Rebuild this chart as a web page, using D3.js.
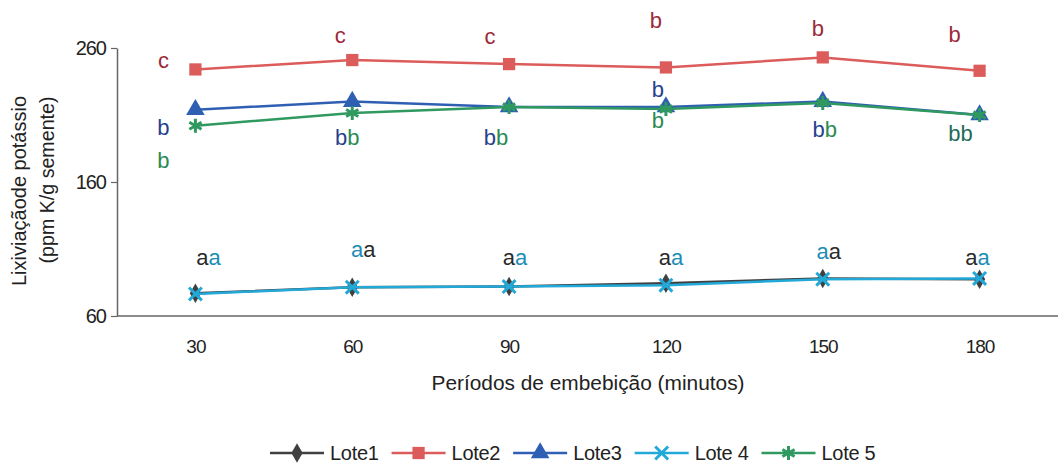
<!DOCTYPE html>
<html>
<head>
<meta charset="utf-8">
<script src="https://cdn.jsdelivr.net/npm/d3@7"></script>
<style>
  body { margin: 0; background: #fff; }
  svg text { font-family: "Liberation Sans", Arial, sans-serif; }
</style>
</head>
<body>
<div id="grafico"></div>
<script>
// Dados do gráfico
var periodos = ["30", "60", "90", "120", "150", "180"];
var lotes = ["Lote1", "Lote2", "Lote3", "Lote 4", "Lote 5"];
var lote1 = [77, 81.5, 82, 84.5, 88, 87.5];
var lote2 = [244, 251, 248, 245.5, 253, 243];
var lote3 = [214, 220, 216, 216, 220, 210];
var lote4 = [76.5, 81.5, 82, 83, 87.5, 88];
var lote5 = [202, 211.5, 216, 214.5, 219, 210];
var yTicks = [60, 160, 260];

// letras de significância (por período)
var letras = [
  // periodo, serie de referência, texto/cores
  ["30", 1, [["c", 1]]],
  ["30", 2, [["b", 2]]],
  ["30", 4, [["b", 4]]],
  ["30", 0, [["a", 0], ["a", 3]]],
  ["60", 1, [["c", 1]]],
  ["60", 2, [["b", 2], ["b", 4]]],
  ["60", 0, [["a", 3], ["a", 0]]],
  ["90", 1, [["c", 1]]],
  ["90", 2, [["b", 2], ["b", 4]]],
  ["90", 0, [["a", 0], ["a", 3]]],
  ["120", 1, [["b", 1]]],
  ["120", 2, [["b", 2]]],
  ["120", 4, [["b", 4]]],
  ["120", 0, [["a", 0], ["a", 3]]],
  ["150", 1, [["b", 1]]],
  ["150", 2, [["b", 2], ["b", 4]]],
  ["150", 0, [["a", 3], ["a", 0]]],
  ["180", 1, [["b", 1]]],
  ["180", 2, [["b", 5], ["b", 5]]],
  ["180", 0, [["a", 0], ["a", 3]]]
];
// deslocamento das letras em pixels (layout)
var desloc = [
  [-32, -1], [-32, 25], [-32, 42], [13, -28],
  [-12, -17], [-5, 43], [11, -30],
  [-19, -20], [-13, 38], [6, -22],
  [-10, -39], [-8, -10], [-8, 19], [5, -18],
  [-5, -21], [2, 35], [6, -19],
  [-25, -29], [-19, 26], [-2, -14]
];

var series = [lote1, lote2, lote3, lote4, lote5];
var cores = ["#404040", "#dc5b5b", "#2f5fb3", "#22a9d8", "#2f9960"];
var coresLetras = ["#2a2a2a", "#9b2a3a", "#24418f", "#1b8db6", "#2a8a52", "#1f6b5b"];
var simbolos = [d3.symbolDiamond, d3.symbolSquare, d3.symbolTriangle, d3.symbolX, d3.symbolAsterisk];
var tamanhos = [110, 150, 150, 110, 140];

var largura = 1061, altura = 466;
var margem = {top: 48, left: 117};

var svg = d3.select("#grafico")
  .append("svg")
  .attr("width", largura)
  .attr("height", altura);

var x = d3.scalePoint()
  .domain(periodos)
  .range([117, 1058])
  .padding(0.5);

var y = d3.scaleLinear()
  .domain([60, 260])
  .range([316, 48]);

// eixo Y
var eixoY = svg.append("g")
  .attr("transform", "translate(" + margem.left + ",0)")
  .call(d3.axisLeft(y).tickValues(yTicks).tickSize(6).tickSizeOuter(0).tickPadding(5));
eixoY.select(".domain").attr("stroke", "#666").attr("stroke-width", 1.5);
eixoY.selectAll(".tick line").attr("stroke", "#666").attr("stroke-width", 1.2);
eixoY.selectAll(".tick text")
  .attr("font-size", "20px")
  .attr("fill", "#222")
  .attr("letter-spacing", "-1px")
  .style("font-family", "Liberation Sans, Arial");

// eixo X
var eixoX = svg.append("g")
  .attr("transform", "translate(0,316)")
  .call(d3.axisBottom(x).tickSize(0).tickPadding(24));
eixoX.select(".domain").attr("stroke", "#666").attr("stroke-width", 1.5)
  .attr("d", "M" + margem.left + ",0H1058");
eixoX.selectAll(".tick text")
  .attr("font-size", "19px")
  .attr("fill", "#222")
  .attr("letter-spacing", "-1px")
  .style("font-family", "Liberation Sans, Arial");

// títulos dos eixos
svg.append("text")
  .attr("x", 588)
  .attr("y", 390)
  .attr("text-anchor", "middle")
  .attr("font-size", "20px")
  .attr("fill", "#222")
  .attr("textLength", 313)
  .attr("lengthAdjust", "spacingAndGlyphs")
  .text("Períodos de embebição (minutos)");

svg.append("text")
  .attr("transform", "translate(26,191) rotate(-90)")
  .attr("text-anchor", "middle")
  .attr("font-size", "20px")
  .attr("fill", "#222")
  .attr("textLength", 190)
  .attr("lengthAdjust", "spacingAndGlyphs")
  .text("Lixiviaçãode potássio");

svg.append("text")
  .attr("transform", "translate(54,180) rotate(-90)")
  .attr("text-anchor", "middle")
  .attr("font-size", "20px")
  .attr("fill", "#222")
  .attr("textLength", 167)
  .attr("lengthAdjust", "spacingAndGlyphs")
  .text("(ppm K/g semente)");

// letras
letras.forEach(function (l, i) {
  var idx = periodos.indexOf(l[0]);
  var t = svg.append("text")
    .attr("x", x(l[0]) + desloc[i][0])
    .attr("y", y(series[l[1]][idx]) + desloc[i][1])
    .attr("text-anchor", "middle")
    .attr("font-size", "22px");
  l[2].forEach(function (p) {
    t.append("tspan").attr("fill", coresLetras[p[1]]).text(p[0]);
  });
});

// linhas e marcadores
var linha = d3.line()
  .x(function (d, i) { return x(periodos[i]); })
  .y(function (d) { return y(d); });

series.forEach(function (s, k) {
  svg.append("path")
    .datum(s)
    .attr("fill", "none")
    .attr("stroke", cores[k])
    .attr("stroke-width", 2.5)
    .attr("d", linha);

  var traco = (k === 3 || k === 4);
  svg.append("g")
    .selectAll("path")
    .data(s)
    .enter()
    .append("path")
    .attr("transform", function (d, i) { return "translate(" + x(periodos[i]) + "," + y(d) + ")"; })
    .attr("d", d3.symbol().type(simbolos[k]).size(tamanhos[k]))
    .attr("fill", traco ? "none" : cores[k])
    .attr("stroke", cores[k])
    .attr("stroke-width", traco ? 3 : 0);
});

// legenda
var lx = 270, ly = 453;
lotes.forEach(function (nome, k) {
  svg.append("line")
    .attr("x1", lx).attr("x2", lx + 54)
    .attr("y1", ly).attr("y2", ly)
    .attr("stroke", cores[k])
    .attr("stroke-width", 2.5);
  var traco = (k === 3 || k === 4);
  svg.append("path")
    .attr("transform", "translate(" + (lx + 27) + "," + ly + ")")
    .attr("d", d3.symbol().type(simbolos[k]).size(tamanhos[k]))
    .attr("fill", traco ? "none" : cores[k])
    .attr("stroke", cores[k])
    .attr("stroke-width", traco ? 3 : 0);
  var t = svg.append("text")
    .attr("x", lx + 60)
    .attr("y", ly + 7)
    .attr("font-size", "20px")
    .attr("fill", "#222")
    .attr("letter-spacing", "-0.3px")
    .text(nome);
  lx = lx + 60 + t.node().getComputedTextLength() + 13;
});
</script>
</body>
</html>
